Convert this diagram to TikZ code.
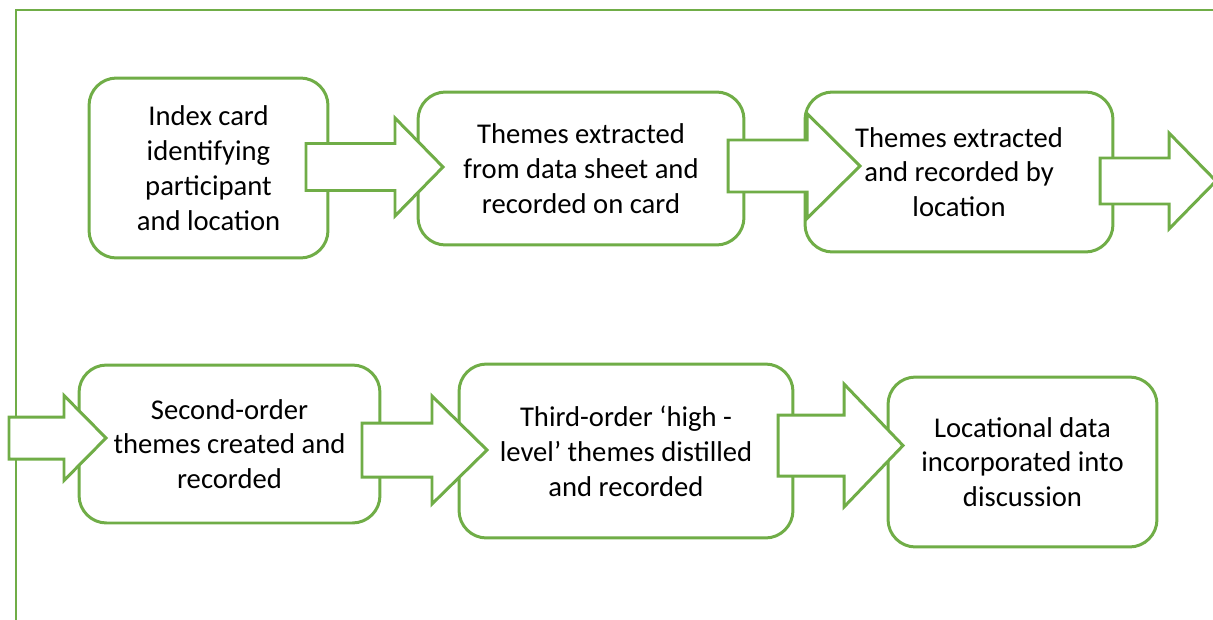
\documentclass[tikz,border=0pt]{standalone}
\usepackage{fontspec}
\setmainfont{Carlito}
\usetikzlibrary{positioning}
\definecolor{leaf}{HTML}{70AD47}
\tikzset{
  card/.style={draw=leaf, line width=1.7pt, rounded corners=0.55cm, fill=white,
    align=center, inner sep=0pt, font=\fontsize{16.3}{19.8}\selectfont},
  blockarrow/.style={draw=leaf, line width=1.7pt, fill=white, line join=miter},
  frame/.style={draw=leaf, line width=1.7pt},
}

\begin{document}
\begin{tikzpicture}[x=0.02cm, y=-0.02cm]
    \useasboundingbox (0,0) rectangle (1213,619);
    \draw[frame] (1215,10) -- (16,10) -- (16,621);
    % first row
    \node[card, minimum width=4.78cm, minimum height=3.6cm] (idx) at (208.5,168) {Index card\\identifying\\participant\\and location};
    \node[card, minimum width=6.52cm, minimum height=3.06cm] (sheet) at (581,168.5) {Themes extracted\\from data sheet and\\recorded on card};
    \node[card, minimum width=6.16cm, minimum height=3.2cm] (loc) at (959,172) {Themes extracted\\and recorded by\\location};
    % second row
    \node[card, minimum width=6.02cm, minimum height=3.16cm] (second) at (229.5,444) {Second-order\\themes created and\\recorded};
    \node[card, minimum width=6.68cm, minimum height=3.48cm] (third) at (626,451) {Third-order ‘high -\\level’ themes distilled\\and recorded};
    \node[card, minimum width=5.38cm, minimum height=3.4cm] (disc) at (1022.5,462) {Locational data\\incorporated into\\discussion};
    % block arrows: tail x / centre y / body half / head x / head half / tip x
    \foreach \tx/\yc/\bh/\hx/\hh/\px in {306/167/23.5/395/49/443, 728/166/26/807/52.5/860,
        1100/181/23/1169/48/1216, 9/438/21/64/42.5/106, 362/450/27/432/54/487, 778/445.5/30.5/844/61.5/903}
      \draw[blockarrow] (\tx,\yc-\bh) -- (\hx,\yc-\bh) -- (\hx,\yc-\hh) -- (\px,\yc)
        -- (\hx,\yc+\hh) -- (\hx,\yc+\bh) -- (\tx,\yc+\bh) -- cycle;
\end{tikzpicture}
\end{document}
